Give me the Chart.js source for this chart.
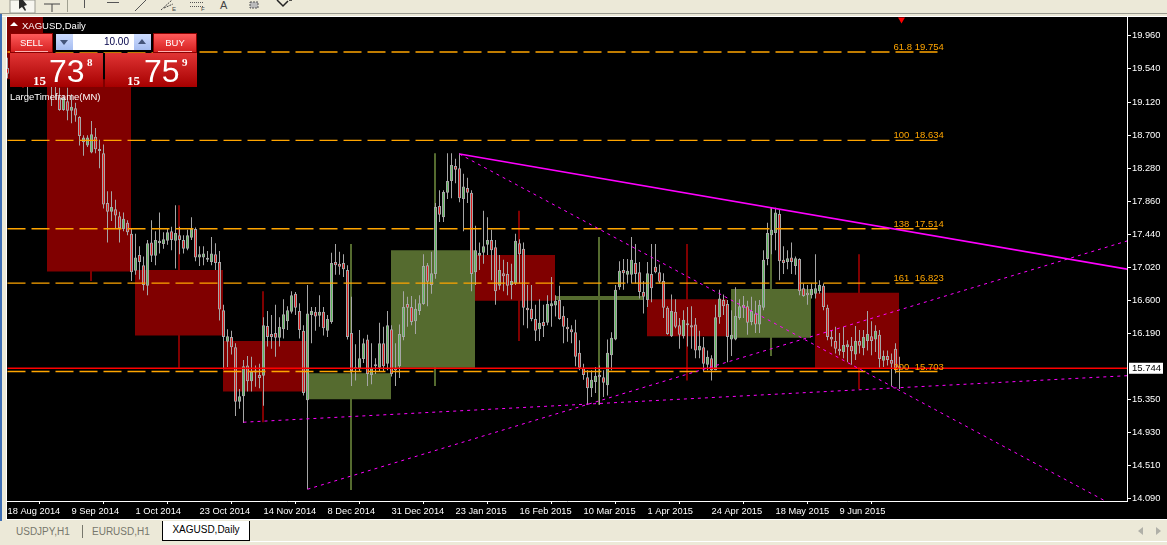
<!DOCTYPE html>
<html>
<head>
<meta charset="utf-8">
<title>XAGUSD,Daily</title>
<script src="https://cdn.jsdelivr.net/npm/chart.js@4"></script>
<style>
  html, body { margin: 0; padding: 0; width: 1167px; height: 545px; overflow: hidden; background: #ece9d8; font-family: "Liberation Sans", sans-serif; }
  .abs { position: absolute; }
  #chartBox { position: absolute; left: 7px; top: 17px; width: 1160px; height: 502px; background: #000; }
  #title { left: 22px; top: 20px; color: #fff; font-size: 9.5px; line-height: 11px; }
  #titleArrow { left: 10px; top: 22px; width: 0; height: 0; border-left: 4px solid transparent; border-right: 4px solid transparent; border-bottom: 4px solid #fff; }
  #largeTf { left: 10px; top: 91px; color: #fff; font-size: 9.5px; line-height: 12px; }
  .tradeBtn { top: 33px; width: 43px; height: 20px; background: linear-gradient(#ff5a5a, #d42020); border: 1px solid #8a0000; box-sizing: border-box; color: #fff; font-size: 9.5px; text-align: center; line-height: 17px; }
  .tradeBtn i { position: absolute; left: 4px; right: 4px; bottom: 0; height: 1px; background: #ffb0b0; }
  .pricePanel { top: 53px; height: 34px; background: linear-gradient(#e03434, #a60000); color: #fff; }
  .pricePanel span { position: absolute; }
  .big { font-size: 32px; line-height: 32px; top: 2px; }
  .small { font: bold 13px "Liberation Serif", serif; top: 20px; }
  .tiny { font: bold 11px "Liberation Serif", serif; top: 3px; }
  #lotBg { left: 54px; top: 33px; width: 99px; height: 19px; background: #000; }
  .lotBtn { top: 34px; width: 17px; height: 16px; background: linear-gradient(#cddcff, #a6bdf0); }
  .lotBtn b { position: absolute; left: 4px; width: 0; height: 0; border-left: 4px solid transparent; border-right: 4px solid transparent; }
  #lot { left: 73px; top: 34px; width: 61px; height: 16px; background: #fff; color: #000048; font-size: 10px; line-height: 16px; text-align: right; box-sizing: border-box; padding-right: 5px; }
  #tabs { left: 0; top: 521px; width: 1167px; height: 24px; }
  .tab { position: absolute; top: 5px; font-size: 10px; color: #77776c; line-height: 12px; }
  #activeTab { position: absolute; left: 162px; top: 0; width: 88px; height: 20px; background: #fff; border-right: 1px solid #000; border-bottom: 1px solid #000; border-left: 1px solid #000; box-sizing: border-box; color: #000; font-size: 10px; line-height: 17px; text-align: center; }
</style>
</head>
<body>
<!-- toolbar -->
<svg class="abs" style="left:0;top:0" width="1167" height="17">
  <rect x="0" y="0" width="1167" height="13" fill="#ece9d8"/>
  <rect x="10" y="0" width="25" height="13" fill="#f7f6f0" stroke="#9a9a90"/>
  <path d="M19 0 L19 9 L22 7 L25 11 L26 10 L24 6 L27 5 L23 0 Z" fill="#2a2a2a"/>
  <path d="M44 4 H60 M52 4 V12" stroke="#444" fill="none"/>
  <path d="M67.5 0 V12" stroke="#a0a090"/>
  <path d="M84.5 0 V8" stroke="#555"/>
  <path d="M107 2.5 H119" stroke="#555"/>
  <path d="M135 11 L146 0" stroke="#555"/>
  <path d="M161 10 L172 0 M164 8 L173 4" stroke="#444" stroke-dasharray="2 1"/>
  <path d="M190 2.5 H203 M190 6.5 H203" stroke="#555" stroke-dasharray="1 1"/>
  <path d="M250 2 H258 V8 H250 Z" fill="#bbb" stroke="#555" stroke-dasharray="2 1"/>
  <path d="M277 0 L283 6 L288 1 M289 0 L292 0" stroke="#222" stroke-width="1.5" fill="none"/>
  <rect x="0" y="13" width="1167" height="1" fill="#9a9a90"/>
  <rect x="0" y="16" width="1167" height="1" fill="#fff"/>
  <text x="220" y="9" font-size="11" font-family="Liberation Sans" fill="#444">A</text>
  <text x="172" y="11" font-size="6" font-family="Liberation Sans" fill="#444">E</text>
  <text x="201" y="11" font-size="6" font-family="Liberation Sans" fill="#444">F</text>
</svg>
<div class="abs" style="left:0;top:14px;width:2px;height:507px;background:#3f6fb5"></div>
<div class="abs" style="left:6px;top:17px;width:1px;height:503px;background:#fff"></div>

<div id="chartBox"><canvas id="chart" width="1160" height="502"></canvas></div>
<div class="abs" style="left:6px;top:519px;width:1161px;height:1px;background:#fff"></div>

<!-- one click trading panel -->
<div class="abs" id="titleArrow"></div>
<div class="abs" id="title">XAGUSD,Daily</div>
<div class="abs" id="lotBg"></div>
<div class="abs tradeBtn" style="left:10px">SELL<i></i></div>
<div class="abs tradeBtn" style="left:153px;width:44px">BUY<i></i></div>
<div class="abs lotBtn" style="left:56px"><b style="top:6px;border-top:5px solid #44557a"></b></div>
<div class="abs" id="lot">10.00</div>
<div class="abs lotBtn" style="left:134px"><b style="top:5px;border-bottom:5px solid #44557a"></b></div>
<div class="abs pricePanel" style="left:10px;width:93px">
  <span class="small" style="left:23px">15</span><span class="big" style="left:39px">73</span><span class="tiny" style="left:77px">8</span>
</div>
<div class="abs pricePanel" style="left:105px;width:92px">
  <span class="small" style="left:22px">15</span><span class="big" style="left:39px">75</span><span class="tiny" style="left:77px">9</span>
</div>
<div class="abs" id="largeTf">LargeTimeframe(MN)</div>

<!-- symbol tabs -->
<div class="abs" id="tabs">
  <div class="tab" style="left:16px">USDJPY,H1</div>
  <div class="abs" style="left:82px;top:4px;width:1px;height:13px;background:#77776c"></div>
  <div class="tab" style="left:92px">EURUSD,H1</div>
  <div id="activeTab">XAGUSD,Daily</div>
  <div class="abs" style="left:1138px;top:6px;width:0;height:0;border-top:4px solid transparent;border-bottom:4px solid transparent;border-right:5px solid #b0b0a8"></div>
  <div class="abs" style="left:1156px;top:6px;width:0;height:0;border-top:4px solid transparent;border-bottom:4px solid transparent;border-left:5px solid #b0b0a8"></div>
  <div class="abs" style="left:250px;top:20px;width:917px;height:1px;background:#fff"></div>
</div>

<script>
// daily candles, one per bar (first ones sit behind the trade panel)
const opens = [19.55,19.48,19.52,19.45,19.40,19.48,19.36,19.44,19.50,19.46,
  19.42,19.45,19.38,19.18,19.02,19.13,19.01,19.04,18.93,18.61,
  18.57,18.48,18.68,18.51,18.47,17.84,17.73,17.76,17.67,17.51,
  17.59,17.45,16.98,17.18,17.05,16.79,17.34,17.17,17.33,17.32,
  17.36,17.48,17.36,17.43,17.37,17.26,17.40,17.51,17.15,17.15,
  17.14,17.09,17.19,17.09,16.48,16.08,16.14,16.01,15.32,15.39,
  15.78,15.58,15.69,15.66,15.65,16.28,16.18,16.19,16.13,16.24,
  16.34,16.46,16.69,16.47,16.22,15.34,16.42,16.46,16.41,16.46,
  16.22,16.33,17.09,17.07,17.08,16.99,16.19,15.74,15.73,15.86,
  16.11,15.66,15.77,15.75,16.06,15.80,16.24,15.75,15.77,16.14,
  16.56,16.52,16.34,16.47,16.56,17.05,16.80,16.94,17.80,17.66,
  17.97,18.12,18.31,18.28,17.89,18.03,17.97,16.96,17.17,17.21,
  17.31,17.37,17.28,16.79,16.95,16.94,16.80,16.82,17.33,17.26,
  16.51,16.50,16.37,16.24,16.33,16.32,16.53,16.54,16.61,16.41,
  16.27,16.24,16.20,15.94,15.75,15.63,15.49,15.57,15.66,15.63,
  15.53,15.91,16.11,16.77,16.99,16.93,16.93,17.08,16.96,16.71,
  16.61,16.94,17.03,16.96,16.85,16.51,16.15,16.46,16.29,16.15,
  16.30,16.29,16.30,15.97,16.01,15.79,15.87,15.72,16.39,16.61,
  16.56,16.11,16.11,16.38,16.55,16.53,16.33,16.44,16.30,16.51,
  17.13,17.43,17.46,17.70,17.12,17.09,17.15,17.04,17.13,16.76,
  16.70,16.67,16.69,16.72,16.79,16.51,16.14,16.09,15.99,15.95,
  16.01,16.03,15.92,16.09,16.00,16.09,16.15,16.11,16.17,15.84,
  15.90,15.85,15.99,15.75];
const highs = [19.68,19.60,19.62,19.56,19.52,19.55,19.50,19.58,19.60,19.56,
  19.52,19.55,19.50,19.30,19.20,19.30,19.22,19.11,18.94,18.70,
  18.70,18.88,18.79,18.64,18.58,17.99,17.99,17.88,17.73,17.72,
  17.62,17.52,17.45,17.29,17.16,17.37,17.62,17.48,17.72,17.47,
  17.52,17.54,17.81,17.54,17.43,17.50,17.66,17.53,17.29,17.29,
  17.23,17.41,17.33,17.23,16.55,16.24,16.22,16.06,15.48,15.85,
  15.90,15.89,15.78,15.80,16.39,16.47,16.42,16.55,16.39,16.62,
  16.53,16.72,16.71,16.57,16.29,16.80,16.52,16.52,16.67,16.52,
  16.42,17.21,17.32,17.22,17.19,17.05,16.65,16.05,16.23,16.12,
  16.17,16.06,15.87,16.32,16.27,16.47,16.29,16.06,16.30,16.72,
  16.65,16.66,16.62,16.67,17.19,17.08,17.22,17.84,18.00,18.00,
  18.47,18.47,18.40,18.47,18.21,18.16,18.00,17.55,17.34,17.74,
  17.66,17.50,17.37,17.18,17.12,17.09,17.07,17.45,17.38,17.34,
  16.80,16.80,16.55,16.62,16.55,16.67,16.90,16.67,16.79,16.53,
  16.38,16.29,16.36,16.10,15.80,15.72,15.72,15.76,15.78,15.72,
  16.11,16.20,16.80,17.10,17.13,17.13,17.41,17.32,17.09,16.85,
  17.09,17.32,17.32,17.06,16.95,16.53,16.68,16.62,16.38,16.48,
  16.52,16.53,16.38,16.22,16.14,15.97,15.91,16.55,16.74,16.68,
  16.61,16.48,16.77,16.62,16.66,16.60,16.65,16.60,16.61,17.24,
  17.59,17.78,17.78,17.75,17.29,17.24,17.34,17.16,17.14,16.82,
  16.80,16.82,17.19,16.86,16.82,16.55,16.23,16.27,16.19,16.27,
  16.10,16.14,16.28,16.23,16.23,16.47,16.34,16.29,16.23,15.97,
  15.97,15.93,16.06,15.89];
const lows = [19.42,19.40,19.42,19.36,19.35,19.18,19.32,19.38,19.42,19.38,
  19.36,19.07,19.15,19.01,19.01,18.89,18.85,18.87,18.57,18.44,
  18.55,18.47,18.47,18.28,17.77,17.34,17.61,17.52,17.34,17.48,
  17.43,16.85,16.93,16.87,16.73,16.67,17.09,17.05,17.20,17.26,
  17.31,17.24,17.01,17.19,17.20,17.24,17.37,17.10,17.04,17.05,
  17.09,17.05,16.99,16.35,15.73,15.76,15.92,15.14,15.23,15.05,
  15.45,15.45,15.51,15.49,15.27,16.02,15.99,15.89,16.02,16.12,
  16.23,16.44,16.42,16.12,15.40,14.21,16.06,16.22,16.27,16.16,
  16.14,16.31,16.93,16.93,16.90,16.11,15.52,15.59,15.70,15.81,
  15.52,15.54,15.67,15.70,15.70,15.72,15.64,15.52,15.62,16.10,
  16.27,16.29,16.18,16.42,16.55,16.53,16.69,16.88,17.60,17.60,
  17.89,17.90,18.09,17.85,17.48,17.84,16.72,16.80,16.99,17.07,
  17.18,16.86,16.55,16.74,16.72,16.67,16.62,16.80,16.82,16.29,
  16.25,16.34,16.09,16.09,16.14,16.29,16.27,16.40,16.36,16.06,
  16.08,16.06,15.77,15.72,15.60,15.28,15.38,15.43,15.28,15.38,
  15.40,15.72,16.10,16.74,16.74,16.82,16.82,16.82,16.63,16.44,
  16.52,16.58,16.95,16.82,16.38,16.17,16.14,16.25,15.99,16.12,
  16.02,15.99,15.87,15.87,15.70,15.72,15.59,15.72,16.31,16.42,
  15.82,15.90,16.10,16.36,16.38,16.17,16.29,16.19,16.19,16.48,
  17.05,17.19,17.24,16.86,16.94,17.00,16.94,16.93,16.67,16.65,
  16.55,16.63,16.63,16.69,16.48,16.10,16.02,15.93,15.91,15.87,
  15.82,15.79,15.85,15.93,15.91,15.97,15.91,15.95,15.75,15.76,
  15.78,15.52,15.68,15.48];
const closes = [19.48,19.52,19.45,19.40,19.48,19.36,19.44,19.50,19.46,19.42,
  19.45,19.38,19.36,19.02,19.17,19.01,19.06,18.95,18.69,18.67,
  18.67,18.71,18.52,18.50,17.82,17.73,17.79,17.68,17.52,17.64,
  17.47,16.96,17.15,17.09,16.80,17.33,17.17,17.37,17.36,17.38,
  17.47,17.37,17.46,17.37,17.26,17.43,17.51,17.15,17.19,17.20,
  17.12,17.20,17.08,16.49,16.14,16.15,16.01,15.32,15.39,15.77,
  15.58,15.70,15.70,15.62,16.29,16.14,16.14,16.13,16.27,16.43,
  16.48,16.67,16.51,16.23,15.43,16.44,16.47,16.40,16.46,16.25,
  16.37,17.08,17.05,17.03,17.00,16.14,15.71,15.73,15.87,16.06,
  15.67,15.75,15.78,16.06,15.77,16.29,15.67,15.72,16.18,16.52,
  16.51,16.33,16.50,16.57,17.04,16.84,16.95,17.79,17.69,17.98,
  18.12,18.32,18.26,17.90,18.05,17.97,16.94,17.24,17.21,17.29,
  17.37,17.24,16.72,16.99,16.91,16.79,16.85,17.36,17.19,16.51,
  16.48,16.37,16.22,16.32,16.28,16.56,16.57,16.60,16.37,16.27,
  16.24,16.20,15.89,15.75,15.66,15.49,15.60,15.65,15.63,15.56,
  15.94,16.13,16.74,16.98,16.95,16.98,17.12,16.94,16.71,16.65,
  16.95,16.76,16.96,16.84,16.51,16.18,16.47,16.27,16.17,16.36,
  16.29,16.26,15.97,16.03,15.80,15.89,15.72,16.39,16.63,16.53,
  16.14,16.17,16.41,16.53,16.51,16.32,16.47,16.30,16.55,17.12,
  17.46,17.50,17.72,17.10,17.08,17.14,17.09,17.14,16.72,16.66,
  16.67,16.75,16.76,16.80,16.52,16.14,16.11,15.99,15.96,16.04,
  16.05,15.96,16.09,16.03,16.14,16.18,16.09,16.22,15.86,15.90,
  15.85,15.80,15.72,15.744];

// monthly candles from the LargeTimeframe(MN) indicator, first/last daily bar of each month
const monthStart = [0, 10, 32, 54, 75, 96, 117, 137, 160, 181, 202];
const monthEnd = [9, 31, 54, 75, 96, 117, 137, 159, 180, 201, 223];
const monthOpen = [20.40, 19.41, 16.99, 16.09, 15.35, 15.75, 17.18, 16.61, 16.62, 16.13, 16.70];
const monthClose = [19.41, 16.97, 16.16, 15.45, 15.68, 17.24, 16.60, 16.66, 16.15, 16.75, 15.75];
const monthWickBar = [4, 21, 43, 64, 86, 107, 128, 148, 170, 191, 213];
const monthHigh = [20.60, 19.55, 17.81, 16.72, 17.32, 18.47, 17.74, 17.41, 17.32, 17.78, 17.19];
const monthLow = [19.30, 16.85, 15.75, 15.06, 14.20, 15.52, 16.09, 15.28, 15.59, 15.90, 15.48];

// fibonacci levels
const fibRatios = ["61.8", "100", "138", "161", "200"];
const fibLevels = [19.754, 18.634, 17.514, 16.823, 15.703];
const lastPrice = 15.744;

// trend lines: [bar, price] at each end
const resistanceLine = [[113, 18.46], [280, 17.00]];
const dottedDown = [[113, 18.46], [274, 14.073]];
const dottedUp = [[75, 14.21], [280, 17.36]];
const dottedFlat = [[59, 15.06], [280, 15.65]];

// axis labels
const dateLabels = ["18 Aug 2014", "9 Sep 2014", "1 Oct 2014", "23 Oct 2014", "14 Nov 2014", "8 Dec 2014", "31 Dec 2014",
  "23 Jan 2015", "16 Feb 2015", "10 Mar 2015", "1 Apr 2015", "24 Apr 2015", "18 May 2015", "9 Jun 2015"];
const dateStep = 16; // bars between date labels
const priceTicks = [19.96, 19.54, 19.12, 18.70, 18.28, 17.86, 17.44, 17.02, 16.60, 16.19, 15.35, 14.93, 14.51, 14.09];

const BAR_SHIFT = 0.125; // half a pixel in bar units, keeps even width marks on whole pixels
const RED_BOX = "#800000", OLIVE_BOX = "#556b2f", ORANGE = "#ffa500", MAGENTA = "#ff00ff", WICK = "#a6a6a6";
const fontName = '"Liberation Sans"';

const datasets = [];

monthStart.forEach((start, m) => {
  const up = monthClose[m] > monthOpen[m];
  datasets.push({
    type: "line",
    data: [{ x: start - BAR_SHIFT, y: Math.max(monthOpen[m], monthClose[m]) }, { x: monthEnd[m] - BAR_SHIFT, y: Math.max(monthOpen[m], monthClose[m]) }],
    fill: { value: Math.min(monthOpen[m], monthClose[m]) },
    backgroundColor: up ? OLIVE_BOX : RED_BOX,
    borderWidth: 0,
    pointRadius: 0,
    order: 20,
  });
});

datasets.push({
  type: "bar",
  data: monthWickBar.map((bar, m) => ({ x: bar - BAR_SHIFT, y: [monthLow[m], monthHigh[m]] })),
  backgroundColor: monthClose.map((c, m) => (c > monthOpen[m] ? OLIVE_BOX : RED_BOX)),
  barThickness: 2,
  inflateAmount: 0,
  grouped: false,
  order: 15,
});

datasets.push({
  type: "bar",
  data: opens.map((o, i) => ({ x: i, y: [lows[i], highs[i]] })),
  backgroundColor: WICK,
  barThickness: 1,
  inflateAmount: 0,
  grouped: false,
  order: 10,
});

datasets.push({
  type: "bar",
  data: opens.map((o, i) => ({ x: i, y: [o, closes[i]] })),
  backgroundColor: closes.map((c, i) => (c >= opens[i] ? "#5cb85c" : "#e01c1c")),
  borderColor: WICK,
  borderWidth: 1,
  borderSkipped: false,
  inflateAmount: 0,
  barThickness: 3,
  minBarLength: 2,
  grouped: false,
  order: 9,
});

fibLevels.forEach((level) => {
  datasets.push({
    type: "line",
    data: [{ x: 0, y: level }, { x: 232.5, y: level }],
    borderColor: ORANGE,
    borderWidth: 1.4,
    borderDash: [18, 6],
    pointRadius: 0,
    order: 5,
  });
});

datasets.push({
  type: "line",
  data: [{ x: 0, y: lastPrice }, { x: 280, y: lastPrice }],
  borderColor: "#ff0000",
  borderWidth: 1.5,
  pointRadius: 0,
  order: 4,
});

function trend(points, width, dash) {
  datasets.push({
    type: "line",
    data: points.map((p) => ({ x: p[0], y: p[1] })),
    borderColor: MAGENTA,
    borderWidth: width,
    borderDash: dash,
    pointRadius: 0,
    order: 3,
  });
}
trend(resistanceLine, 1.5, []);
trend(dottedDown, 1, [3, 4]);
trend(dottedUp, 1, [3, 4]);
trend(dottedFlat, 1, [3, 4]);

// chart shift marker at the top
datasets.push({
  type: "line",
  data: [{ x: 223.5, y: 20.165 }],
  pointStyle: "triangle",
  rotation: 180,
  pointRadius: 4,
  pointBackgroundColor: "#ff0000",
  pointBorderWidth: 0,
  showLine: false,
  order: 2,
});

// fibo captions and the last price tag
const textPlugin = {
  id: "textPlugin",
  afterDraw(chart) {
    const { ctx, scales } = chart;
    ctx.save();
    ctx.font = "9.5px " + fontName;
    ctx.textBaseline = "alphabetic";
    ctx.textAlign = "left";
    ctx.fillStyle = ORANGE;
    fibLevels.forEach((level, k) => {
      const y = scales.y.getPixelForValue(level) - 2;
      ctx.fillText(fibRatios[k], scales.x.getPixelForValue(221.5), y);
      ctx.fillText(level.toFixed(3), scales.x.getPixelForValue(226.8), y);
    });
    const py = scales.y.getPixelForValue(lastPrice);
    const px = scales.x.right + 2;
    ctx.fillStyle = "#fff";
    ctx.fillRect(px, py - 5.5, 34, 11);
    ctx.fillStyle = "#000";
    ctx.textBaseline = "middle";
    ctx.fillText(lastPrice.toFixed(3), px + 3, py + 0.5);
    ctx.restore();
  },
};

new Chart(document.getElementById("chart"), {
  type: "bar",
  data: { datasets },
  plugins: [textPlugin],
  options: {
    responsive: false,
    animation: false,
    devicePixelRatio: 1,
    layout: { padding: 0, autoPadding: false },
    plugins: { legend: { display: false }, tooltip: { enabled: false } },
    scales: {
      x: {
        type: "linear",
        offset: false,
        min: -BAR_SHIFT,
        max: 280 - BAR_SHIFT,
        border: { color: "#fff", width: 1 },
        grid: { drawOnChartArea: false, drawTicks: true, tickLength: 3, tickColor: "#fff" },
        ticks: {
          color: "#fff",
          font: { family: fontName, size: 9.3 },
          align: "start",
          maxRotation: 0,
          autoSkip: false,
          padding: 2,
          callback: (value) => dateLabels[Math.round(value / dateStep)],
        },
        afterBuildTicks: (scale) => {
          scale.ticks = dateLabels.map((d, k) => ({ value: k * dateStep }));
        },
        afterFit: (scale) => {
          scale.height = 18;
          scale.paddingLeft = 0;
          scale.paddingRight = 0;
        },
      },
      y: {
        type: "linear",
        position: "right",
        min: 14.061,
        max: 20.198,
        border: { color: "#fff", width: 1 },
        grid: { drawOnChartArea: false, drawTicks: true, tickLength: 4, tickColor: "#fff" },
        ticks: {
          color: "#fff",
          font: { family: fontName, size: 9.3 },
          autoSkip: false,
          padding: 1,
          callback: (value) => value.toFixed(3),
        },
        afterBuildTicks: (scale) => {
          scale.ticks = priceTicks.map((v) => ({ value: v }));
        },
        afterFit: (scale) => {
          scale.width = 40;
          scale.paddingTop = 0;
          scale.paddingBottom = 0;
        },
      },
    },
  },
});
</script>
</body>
</html>
